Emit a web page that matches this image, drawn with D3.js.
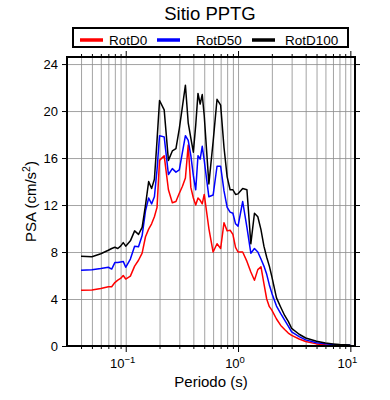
<!DOCTYPE html>
<html>
<head>
<meta charset="utf-8">
<script src="https://cdn.jsdelivr.net/npm/d3@7"></script>
<style>
  body { margin: 0; background: #fff; }
  text { font-family: "Liberation Sans", Arial, Helvetica, sans-serif; }
</style>
</head>
<body>
<svg id="chart"></svg>
<script>
// periods (s)
let periods = [0.04,0.05,0.06,0.07,0.075,0.08,0.085,0.09,0.095,
  0.1,0.11,0.12,0.13,0.14,0.15,0.16,0.17,0.18,0.19,
  0.2,0.22,0.24,0.26,0.28,0.3,0.32,0.34,0.36,0.38,0.4,0.42,0.44,0.46,0.48,
  0.5,0.55,0.6,0.65,0.7,0.75,0.8,0.85,0.9,0.95,
  1.0,1.1,1.2,1.3,1.4,1.5,1.6,1.7,1.8,1.9,
  2.0,2.2,2.4,2.6,2.8,
  3.0,3.5,4.0,5.0,6.0,7.0,8.0,10];

let rotD0 = [4.75,4.77,4.9,5.05,5.05,5.4,5.6,5.75,6.0,
  5.7,5.95,6.8,7.3,7.9,9.3,9.95,10.4,11.0,11.8,
  15.8,16.2,13.3,12.2,12.3,13.0,13.6,14.3,17.1,13.5,12.6,12.0,12.6,12.4,12.1,
  12.9,10.0,8.0,8.7,8.3,10.5,9.8,9.85,9.5,8.4,
  8.0,8.0,7.2,6.3,5.6,6.5,6.75,5.3,4.0,3.35,
  3.05,2.3,1.75,1.4,1.1,
  0.9,0.6,0.38,0.18,0.1,0.07,0.05,0.03];

let rotD50 = [6.45,6.5,6.6,6.7,6.55,7.1,7.1,7.15,7.2,
  6.7,7.4,8.5,8.45,9.4,11.5,12.6,12.1,12.7,15.0,
  17.9,17.8,14.6,15.1,14.8,15.0,16.5,17.9,17.5,16.2,14.5,13.3,16.2,15.9,17.0,
  15.8,12.7,12.85,15.3,15.3,13.2,11.8,11.4,11.3,10.4,
  10.2,12.3,10.1,7.9,8.3,8.0,7.4,6.8,6.1,5.2,
  4.5,3.4,2.75,2.2,1.7,
  1.2,0.8,0.52,0.28,0.19,0.13,0.1,0.06];

let rotD100 = [7.65,7.6,7.85,8.15,8.3,8.4,8.3,8.5,8.8,
  8.5,8.95,9.8,9.5,10.1,12.0,14.0,13.4,14.2,17.5,
  20.9,20.1,15.8,16.6,16.8,18.5,20.4,22.2,19.0,17.7,16.5,18.8,21.5,20.6,21.4,
  19.6,13.8,17.4,21.0,20.5,16.9,14.4,13.3,13.3,12.9,
  12.95,13.4,13.3,8.7,11.3,11.0,9.9,8.5,7.55,6.8,
  5.9,4.1,3.3,2.6,2.1,
  1.5,1.0,0.68,0.4,0.25,0.18,0.13,0.08];

let seriesNames = ["RotD0", "RotD50", "RotD100"];
let seriesColors = ["#ff0000", "#0000ff", "#000000"];
let yTicks = [0, 4, 8, 12, 16, 20, 24];
let xMajor = [0.1, 1, 10];
let xMajorExp = ["\u22121", "0", "1"];

let svg = d3.select("svg#chart").attr("width", 390).attr("height", 400);
let padding = {"top": 57, "bottom": 54, "left": 67, "right": 35};
let w = 390 - padding.left - padding.right;
let h = 400 - padding.top - padding.bottom;

let xScale = d3.scaleLog().domain([0.03, 11]).range([0, w]);
let yScale = d3.scaleLinear().domain([0, 24.6]).range([h, 0]);

let plot = svg.append("g")
  .attr("transform", "translate(" + padding.left + "," + padding.top + ")");

// grid lines
let minorTicks = xScale.ticks().filter(t => t > 0.03 && t < 11);
let xGrid = d3.axisBottom(xScale).tickValues(minorTicks).tickSize(-h).tickFormat("");
plot.append("g").attr("class", "gridlines")
  .attr("transform", "translate(0," + h + ")").call(xGrid);
let yGrid = d3.axisLeft(yScale).tickValues(yTicks.slice(1)).tickSize(-w).tickFormat("");
plot.append("g").attr("class", "gridlines").call(yGrid);
plot.selectAll(".gridlines line").attr("stroke", "#8c8c8c").attr("stroke-width", 0.8);
plot.selectAll(".gridlines .domain").remove();

// curves
let allSeries = [rotD0, rotD50, rotD100];
let line = d3.line().x((d, i) => xScale(periods[i])).y(d => yScale(d));
allSeries.forEach(function(vals, k) {
  plot.append("path").datum(vals)
    .attr("fill", "none")
    .attr("stroke", seriesColors[k])
    .attr("stroke-width", 1.5)
    .attr("stroke-linejoin", "round")
    .attr("d", line);
});

// ticks (outside, all four sides)
let minorOnly = minorTicks.filter(t => xMajor.indexOf(t) < 0);
function tickStyle(g) {
  g.select(".domain").remove();
  g.selectAll("line").attr("stroke", "#000").attr("stroke-width", 1);
}
plot.append("g").attr("transform", "translate(0," + h + ")")
  .call(d3.axisBottom(xScale).tickValues(minorOnly).tickSize(3).tickFormat("")).call(tickStyle);
plot.append("g").attr("transform", "translate(0," + h + ")")
  .call(d3.axisBottom(xScale).tickValues(xMajor).tickSize(6).tickFormat("")).call(tickStyle);
plot.append("g")
  .call(d3.axisTop(xScale).tickValues(minorOnly).tickSize(3).tickFormat("")).call(tickStyle);
plot.append("g")
  .call(d3.axisTop(xScale).tickValues(xMajor).tickSize(6).tickFormat("")).call(tickStyle);
plot.append("g")
  .call(d3.axisLeft(yScale).tickValues(yTicks).tickSize(5).tickPadding(4).tickFormat(d3.format("d")))
  .call(tickStyle)
  .selectAll("text").attr("font-size", 13).attr("fill", "#000")
  .attr("font-family", "Liberation Sans, Arial, sans-serif");
plot.append("g").attr("transform", "translate(" + w + ",0)")
  .call(d3.axisRight(yScale).tickValues(yTicks).tickSize(5).tickFormat("")).call(tickStyle);

// x tick labels with exponents
xMajor.forEach(function(t, i) {
  let lbl = plot.append("text")
    .attr("x", xScale(t) - 3)
    .attr("y", h + 22)
    .attr("text-anchor", "middle")
    .attr("font-size", 13);
  lbl.append("tspan").text("10");
  lbl.append("tspan").attr("dy", -5).attr("font-size", 9.5).text(xMajorExp[i]);
});

// frame
plot.append("rect").attr("x", 0).attr("y", 0).attr("width", w).attr("height", h)
  .attr("fill", "none").attr("stroke", "#000").attr("stroke-width", 2);

// axis labels
svg.append("text").attr("x", padding.left + w / 2).attr("y", 387)
  .attr("text-anchor", "middle").attr("font-size", 15).text("Periodo (s)");
let yl = svg.append("text")
  .attr("transform", "translate(" + 36 + "," + (padding.top + h / 2) + ")rotate(-90)")
  .attr("text-anchor", "middle").attr("font-size", 15);
yl.append("tspan").text("PSA (cm/s");
yl.append("tspan").attr("dy", -6).attr("font-size", 10.5).text("2");
yl.append("tspan").attr("dy", 6).text(")");

// title
svg.append("text").attr("x", 210).attr("y", 20)
  .attr("text-anchor", "middle").attr("font-size", 18.5).text("Sitio PPTG");

// legend
svg.append("rect").attr("x", 73).attr("y", 28).attr("width", 275).attr("height", 19)
  .attr("fill", "#fff").attr("stroke", "#000").attr("stroke-width", 2);
let legX = [80, 157, 252];
seriesNames.forEach(function(name, k) {
  svg.append("line").attr("x1", legX[k]).attr("x2", legX[k] + 23)
    .attr("y1", 40).attr("y2", 40)
    .attr("stroke", seriesColors[k]).attr("stroke-width", 3.5);
  svg.append("text").attr("x", legX[k] + 29 + (k === 1 ? 10 : 0) + (k === 2 ? 4 : 0)).attr("y", 44.5)
    .attr("font-size", 13.5).text(name);
});
</script>
</body>
</html>
